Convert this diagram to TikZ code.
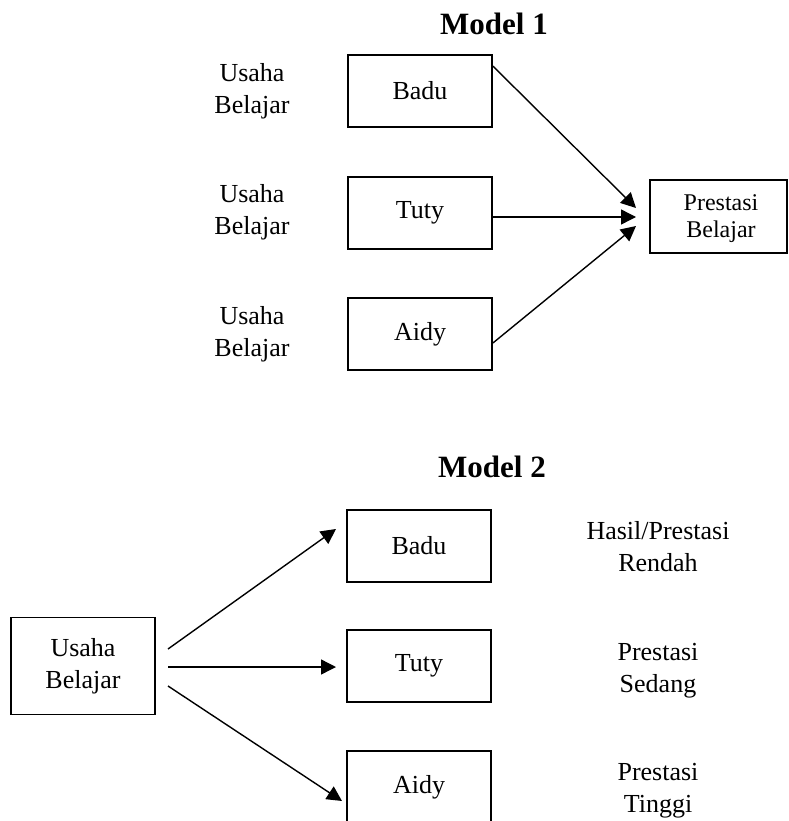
\documentclass[tikz,border=0pt]{standalone}
\usepackage{fontspec}
\setmainfont{Liberation Serif}
\usetikzlibrary{arrows.meta}
\begin{document}
\begin{tikzpicture}[x=1pt,y=-1pt,
  box/.style={draw,line width=1.8pt,minimum width=144pt,minimum height=72pt,inner sep=0pt,font=\fontsize{26}{32}\selectfont,align=center},
  lbl/.style={inner sep=0pt,font=\fontsize{26}{32}\selectfont,align=center},
  ttl/.style={inner sep=0pt,font=\fontsize{31}{36}\selectfont\bfseries},
  arr/.style={line width=1.4pt,-{Triangle[length=15pt,width=15pt]}}]
\useasboundingbox (0,0) rectangle (788,821);
\clip (0,0) rectangle (788,821);
% Model 1
\node[ttl] (t1) at (494,24) {Model 1};
\node[lbl] (u1) at (252,91) {Usaha\\Belajar};
\node[lbl] (u2) at (252,212) {Usaha\\Belajar};
\node[lbl] (u3) at (252,334) {Usaha\\Belajar};
\node[box] (b1) at (420,91) {Badu};
\node[box] (b2) at (420,213) {Tuty};
\node[box] (b3) at (420,334) {Aidy};
\node[box,minimum width=137pt,minimum height=73pt] (pb) at (718.5,216.5) {};
\node[lbl,font=\fontsize{24}{27}\selectfont] (pbt) at (721,219) {Prestasi\\Belajar};
\coordinate (e1) at (636,208);
\coordinate (e2) at (636,217);
\coordinate (e3) at (636,226);
\draw[arr] (b1.north east) ++(0,12) coordinate (s1) -- (e1);
\draw[arr] (b2.east) ++(0,4) coordinate (s2) -- (e2);
\draw[arr] (b3.east) ++(0,9) coordinate (s3) -- (e3);
% Model 2
\node[ttl] (t2) at (492,467) {Model 2};
\node[box,minimum height=97pt] (ub) at (83,666) {Usaha\\Belajar};
\node[box] (c1) at (419,546) {Badu};
\node[box] (c2) at (419,666) {Tuty};
\node[box] (c3) at (419,787) {Aidy};
\node[lbl] (r1) at (658,547) {Hasil/Prestasi\\Rendah};
\node[lbl] (r2) at (658,671) {Prestasi\\Sedang};
\node[lbl] (r3) at (658,791) {Prestasi\\Tinggi};
\coordinate (a1) at (168,649);
\coordinate (a2) at (168,667);
\coordinate (a3) at (168,686);
\coordinate (f1) at (336,529);
\coordinate (f2) at (336,667);
\coordinate (f3) at (342,801);
\draw[arr] (a1) -- (f1);
\draw[arr] (a2) -- (f2);
\draw[arr] (a3) -- (f3);
\end{tikzpicture}
\end{document}
